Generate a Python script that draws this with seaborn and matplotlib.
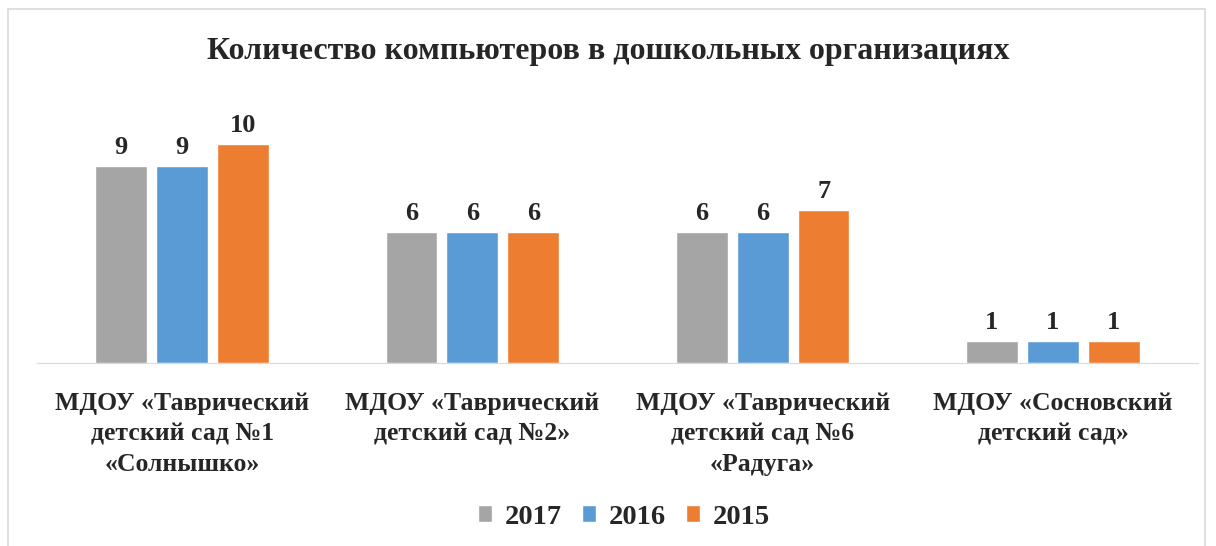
import matplotlib.pyplot as plt
import matplotlib.patches as mpatches
import seaborn as sns
import pandas as pd

categories = ['МДОУ «Таврический\nдетский сад №1\n«Солнышко»',
              'МДОУ «Таврический\nдетский сад №2»',
              'МДОУ «Таврический\nдетский сад №6\n«Радуга»',
              'МДОУ «Сосновский\nдетский сад»']
years = ['2017', '2016', '2015']
v2017 = [9, 6, 6, 1]
v2016 = [9, 6, 6, 1]
v2015 = [10, 6, 7, 1]
colors = ['#A5A5A5', '#5B9BD5', '#ED7D31']

df = pd.DataFrame({'cat': categories, '2017': v2017, '2016': v2016, '2015': v2015})
df = df.melt(id_vars='cat', var_name='year', value_name='n')

sns.set_style('white')
plt.rcParams['font.family'] = ['Liberation Serif', 'DejaVu Serif']
plt.rcParams['font.weight'] = 'bold'

fig = plt.figure(figsize=(12.16, 5.46), dpi=100)
ax = fig.add_axes([37/1216, 183/546, 1161/1216, 263/546])

sns.barplot(data=df, x='cat', y='n', hue='year', hue_order=years,
            palette=colors, width=0.63, gap=0.15, saturation=1, ax=ax)

for c in ax.containers:
    ax.bar_label(c, fontsize=19, fontweight='bold', padding=5)

ax.set_ylim(0, 12)
ax.set_xlim(-0.5, 3.5)
ax.set_yticks([])
ax.set_xlabel('')
ax.set_ylabel('')
for s in ['top', 'right', 'left']:
    ax.spines[s].set_visible(False)
ax.spines['bottom'].set_color('#D9D9D9')
ax.tick_params(axis='x', length=0, pad=21)
plt.setp(ax.get_xticklabels(), fontsize=18.5, fontweight='bold', linespacing=1.42)

fig.suptitle('Количество компьютеров в дошкольных организациях',
             fontsize=23, fontweight='bold', y=1 - 51/546, va='center')

h, l = ax.get_legend_handles_labels()
ax.legend_.remove()
fig.legend(h, l, loc='center', bbox_to_anchor=(624/1216, 1 - 517/546), ncol=3,
           frameon=False, fontsize=20.5, handlelength=0.5, handleheight=0.5,
           handletextpad=0.45, columnspacing=0.7)

fig.patches.append(mpatches.Rectangle((8/1216, -0.02), 1197/1216, 1.02 - 9/546,
                                      transform=fig.transFigure, fill=False,
                                      edgecolor='#D9D9D9', linewidth=1.2))

plt.savefig('out.png', dpi=100)
